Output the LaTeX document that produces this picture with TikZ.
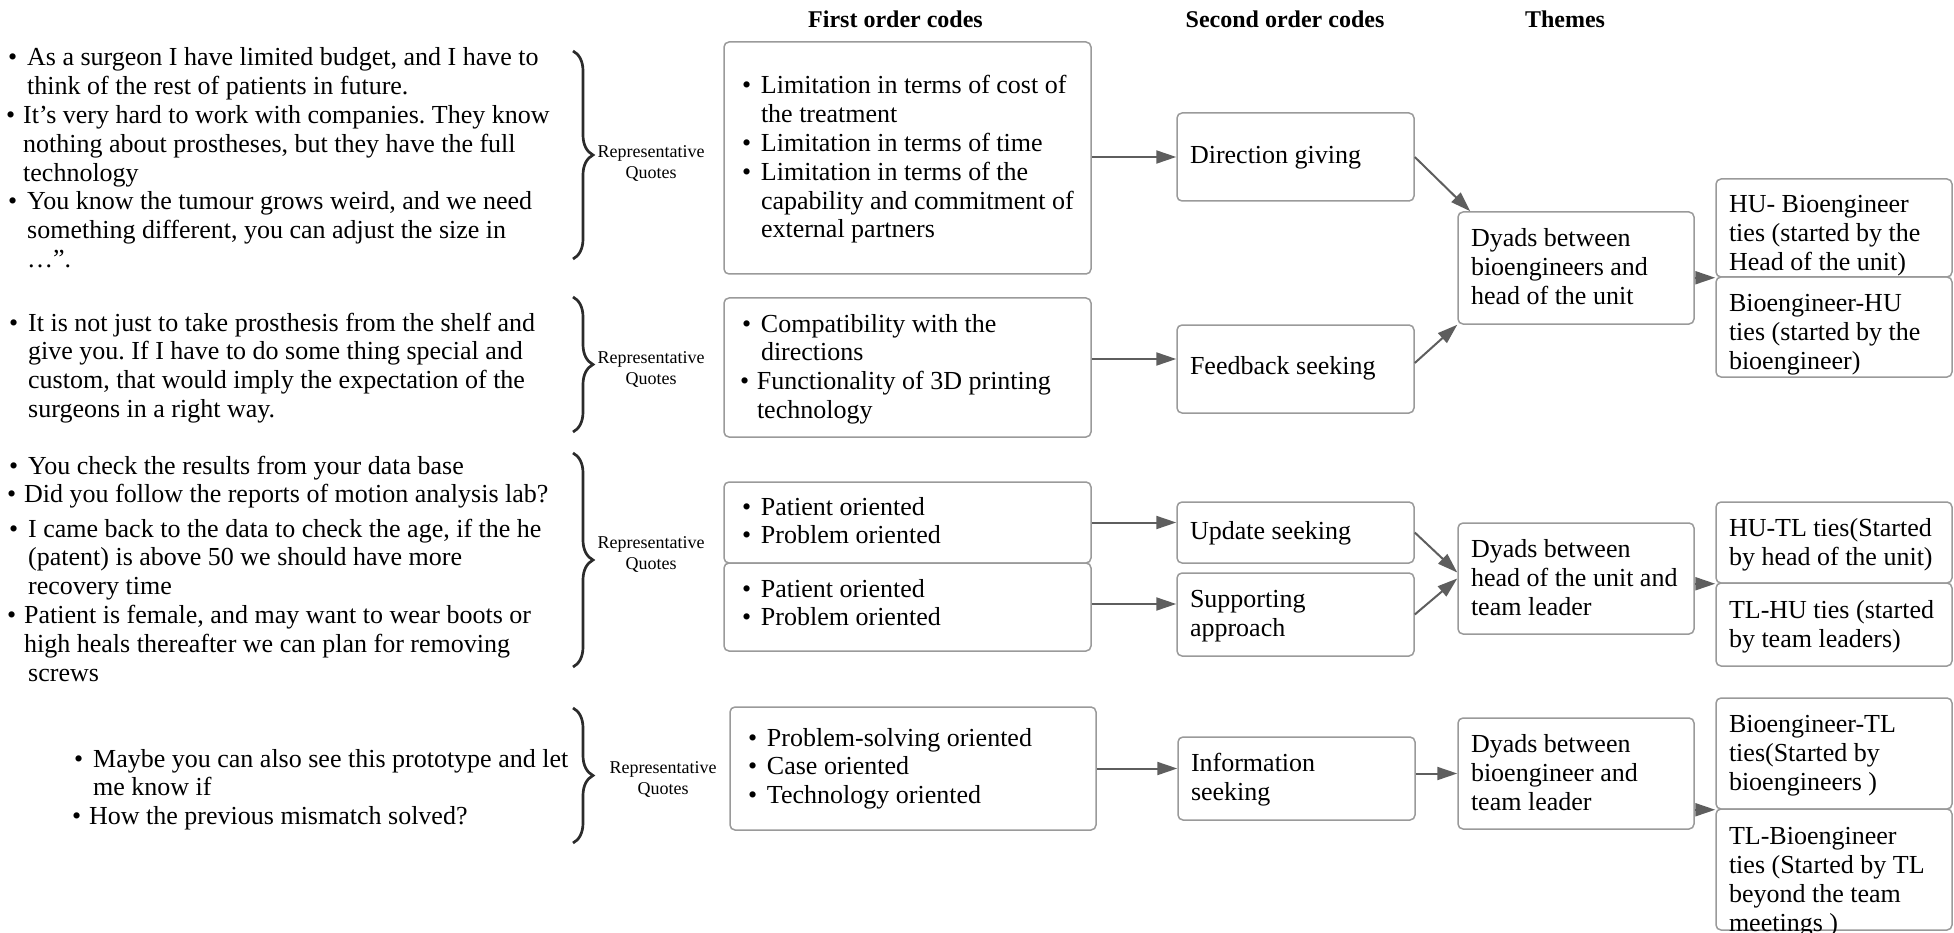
\documentclass[tikz,border=0pt]{standalone}
\usepackage{fontspec}
\setmainfont{Liberation Serif}
\usetikzlibrary{arrows.meta,decorations.pathreplacing}
\frenchspacing

\definecolor{boxline}{HTML}{9A9A9A}
\definecolor{linkgray}{HTML}{5E5E5E}
\definecolor{bracec}{HTML}{2B2B2B}

% font sizes (1pt = 1 unit of the picture)
\newcommand\mainsize{\fontsize{26}{28.8}\selectfont}
\newcommand\labelsize{\fontsize{18}{21}\selectfont}
\newcommand\headsize{\fontsize{24}{28}\selectfont\bfseries}

% bullets and continuation indents
\newcommand\qbul{\hspace*{3pt}\makebox[19pt][l]{\textbullet}}
\newcommand\qbulT{\hspace*{1pt}\makebox[17pt][l]{\textbullet}}
\newcommand\qcont{\hspace*{22pt}}
\newcommand\qcontT{\hspace*{18pt}}

% block of lines, first baseline is the reference point
\newcommand\qlines[1]{\begin{tabular}[t]{@{}l@{}}#1\end{tabular}}
% box body: width, left pad, raise of first baseline above box centre, lines
\newcommand\boxbody[4]{\makebox[#1pt][l]{\hspace*{#2pt}\raisebox{#3pt}[0pt][0pt]{\qlines{#4}}}}

\begin{document}
\begin{tikzpicture}[x=1pt,y=-1pt,
  box/.style={draw=boxline, line width=1.5pt, rounded corners=5pt, inner sep=0pt, font=\mainsize, anchor=center},
  quote/.style={inner sep=0pt, font=\mainsize, anchor=base west},
  replabel/.style={inner sep=0pt, font=\labelsize, anchor=base},
  head/.style={inner sep=0pt, font=\headsize, anchor=base},
  link/.style={draw=linkgray, line width=2pt, -{Triangle[length=20pt,width=13pt]}},
  curly/.style={draw=bracec, line width=2.7pt, decorate, decoration={brace, amplitude=20pt}},
]
\useasboundingbox (0,0) rectangle (1954,933);

% column headings
\node[head] (h1) at (895.5,27.5) {First order codes};
\node[head] (h2) at (1285,27.5) {Second order codes};
\node[head] (h3) at (1565,27.5) {Themes};

% representative quotes
\node[quote] (q1) at (5,66) {\qlines{%
  \qbul As a surgeon I have limited budget, and I have to\\
  \qcont think of the rest of patients in future.\\
  \qbulT It’s very hard to work with companies. They know\\
  \qcontT nothing about prostheses, but they have the full\\
  \qcontT technology\\
  \qbul You know the tumour grows weird, and we need\\
  \qcont something different, you can adjust the size in\\
  \qcont …”.}};
\node[quote] (q2) at (6,331) {\qlines{%
  \qbul It is not just to take prosthesis from the shelf and\\
  \qcont give you. If I have to do some thing special and\\
  \qcont custom, that would imply the expectation of the\\
  \qcont surgeons in a right way.}};
\node[quote] (q3) at (6,474) {\qlines{%
  \qbul You check the results from your data base\\
  \qbulT Did you follow the reports of motion analysis lab?\\[5.5pt]
  \qbul I came back to the data to check the age, if the he\\
  \qcont (patent) is above 50 we should have more\\
  \qcont recovery time\\
  \qbulT Patient is female, and may want to wear boots or\\
  \qcontT high heals thereafter we can plan for removing\\
  \qcont screws}};
\node[quote] (q4) at (71,767) {\qlines{%
  \qbul Maybe you can also see this prototype and let\\
  \qcont me know if\\
  \qbulT How the previous mismatch solved?}};

% braces and their labels
\draw[curly] (573,51) -- (573,259);
\draw[curly] (573,297) -- (573,432);
\draw[curly] (573,453) -- (573,667);
\draw[curly] (573,708) -- (573,843);
\node[replabel] (l1) at (651,158) {\begin{tabular}[t]{@{}c@{}}Representative\\Quotes\end{tabular}};
\node[replabel] (l2) at (651,363) {\begin{tabular}[t]{@{}c@{}}Representative\\Quotes\end{tabular}};
\node[replabel] (l3) at (651,548) {\begin{tabular}[t]{@{}c@{}}Representative\\Quotes\end{tabular}};
\node[replabel] (l4) at (663,773) {\begin{tabular}[t]{@{}c@{}}Representative\\Quotes\end{tabular}};

% first order codes
\node[box, minimum height=232pt] (f1) at (907.5,158) {\boxbody{367}{15}{64}{%
  \qbul Limitation in terms of cost of\\
  \qcont the treatment\\
  \qbul Limitation in terms of time\\
  \qbul Limitation in terms of the\\
  \qcont capability and commitment of\\
  \qcont external partners}};
\node[box, minimum height=139pt] (f2) at (907.5,367.5) {\boxbody{367}{15}{35.5}{%
  \qbul Compatibility with the\\
  \qcont directions\\
  \qbulT Functionality of 3D printing\\
  \qcontT technology}};
\node[box, minimum height=81pt] (f3a) at (907.5,522.5) {\boxbody{367}{15}{7.5}{%
  \qbul Patient oriented\\
  \qbul Problem oriented}};
\node[box, minimum height=88pt] (f3b) at (907.5,607) {\boxbody{367}{15}{10}{%
  \qbul Patient oriented\\
  \qbul Problem oriented}};
\node[box, minimum height=123pt] (f4) at (913,768.5) {\boxbody{366}{15}{22.5}{%
  \qbul Problem-solving oriented\\
  \qbul Case oriented\\
  \qbul Technology oriented}};

% second order codes
\node[box, minimum height=88pt] (s1) at (1295.5,157) {\boxbody{237}{13}{-6.8}{Direction giving}};
\node[box, minimum height=88pt] (s2) at (1295.5,369) {\boxbody{237}{13}{-5.8}{Feedback seeking}};
\node[box, minimum height=61pt] (s3) at (1295.5,532.5) {\boxbody{237}{13}{-7.3}{Update seeking}};
\node[box, minimum height=83pt] (s4) at (1295.5,614.5) {\boxbody{237}{13}{6.7}{Supporting\\approach}};
\node[box, minimum height=83pt] (s5) at (1296.5,778.5) {\boxbody{237}{13}{6.7}{Information\\seeking}};

% themes
\node[box, minimum height=112pt] (t1) at (1576,268) {\boxbody{236}{13}{21.2}{Dyads between\\bioengineers and\\head of the unit}};
\node[box, minimum height=111pt] (t2) at (1576,578.5) {\boxbody{236}{13}{20.7}{Dyads between\\head of the unit and\\team leader}};
\node[box, minimum height=111pt] (t3) at (1576,773.5) {\boxbody{236}{13}{20.7}{Dyads between\\bioengineer and\\team leader}};

% ties
\node[box, minimum height=98pt] (r1a) at (1834,228) {\boxbody{236}{13}{15.2}{HU- Bioengineer\\ties (started by the\\Head of the unit)}};
\node[box, minimum height=100pt] (r1b) at (1834,327) {\boxbody{236}{13}{15.2}{Bioengineer-HU\\ties (started by the\\bioengineer)}};
\node[box, minimum height=81pt] (r2a) at (1834,542.5) {\boxbody{236}{13}{5.7}{HU-TL ties(Started\\by head of the unit)}};
\node[box, minimum height=83pt] (r2b) at (1834,624.5) {\boxbody{236}{13}{5.7}{TL-HU ties (started\\by team leaders)}};
\node[box, minimum height=111pt] (r3a) at (1834,753.5) {\boxbody{236}{13}{20.7}{Bioengineer-TL\\ties(Started by\\bioengineers )}};
\node[box, minimum height=121pt] (r3b) at (1834,869.5) {\boxbody{236}{13}{24.7}{TL-Bioengineer\\ties (Started by TL\\beyond the team\\meetings )}};

% connectors: first order -> second order
\coordinate (s2in) at ([yshift=10pt]s2.west);
\coordinate (f3bout) at ([yshift=3pt]f3b.east);
\draw[link] (f1.east |- s1.west) -- (s1.west);
\draw[link] (f2.east |- s2in) -- (s2in);
\draw[link] (f3a.east) -- (f3a.east -| s3.west);
\draw[link] (f3bout) -- (f3bout -| s4.west);
\draw[link] (f4.east) -- (f4.east -| s5.west);

% second order -> themes
\draw[link] (s1.east) -- ([xshift=13pt]t1.north west);
\draw[link] ([yshift=6pt]s2.east) -- (t1.south west);
\draw[link] (s3.east) -- ([yshift=6pt]t2.west);
\draw[link] (s4.east) -- (t2.west);
\draw[link] (s5.east |- t3.west) -- (t3.west);

% themes -> ties
\draw[link] (t1.east |- r1a.south west) -- (r1a.south west);
\draw[link] (t2.east |- r2a.south west) -- (r2a.south west);
\draw[link] (t3.east |- r3a.south west) -- (r3a.south west);
\end{tikzpicture}
\end{document}
